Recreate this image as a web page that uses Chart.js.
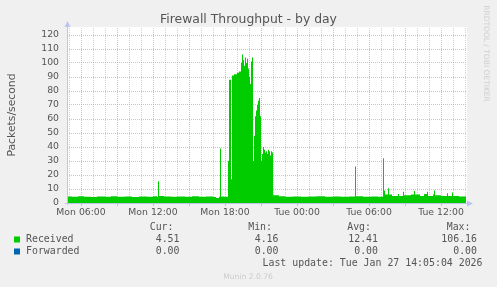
<!DOCTYPE html>
<html>
<head>
<meta charset="utf-8">
<title>Firewall Throughput - by day</title>
<script src="https://cdn.jsdelivr.net/npm/chart.js@4.4.1/dist/chart.umd.min.js"></script>
<style>
  html, body { margin: 0; padding: 0; background: #f0f0f0; }
  canvas { display: block; }
</style>
</head>
<body>
<canvas id="chart" width="497" height="287"></canvas>
<script>
// ===== Data =====
// Sample start times in minutes since Mon 00:00 (each value holds until the next time)
const times = [
  290, 315, 345, 375, 410, 440, 480, 510, 540, 580,
  615, 650, 690, 720, 740, 745, 750, 775, 810, 840,
  880, 915, 950, 985, 1020, 1035, 1050, 1055, 1060, 1075,
  1095, 1100, 1110, 1115, 1125, 1140, 1150, 1160, 1165, 1170,
  1175, 1180, 1185, 1190, 1195, 1200, 1205, 1210, 1215, 1220,
  1225, 1230, 1235, 1240, 1245, 1250, 1255, 1260, 1265, 1270,
  1275, 1280, 1285, 1290, 1295, 1300, 1305, 1310, 1315, 1320,
  1350, 1380, 1420, 1460, 1500, 1540, 1580, 1620, 1660, 1700,
  1730, 1735, 1770, 1810, 1845, 1870, 1875, 1880, 1895, 1900,
  1915, 1945, 1950, 1970, 1975, 2010, 2025, 2030, 2055, 2075,
  2090, 2095, 2120, 2125, 2130, 2160, 2190, 2195, 2215, 2220,
  2250, 2285
];
// Received packets/second
const received = [
  4.6, 4.4, 4.8, 4.5, 4.3, 4.7, 4.5, 4.9, 4.4, 4.6,
  4.3, 4.7, 4.5, 4.8, 4.5, 15.5, 5.0, 4.6, 4.4, 4.7,
  4.5, 4.8, 4.4, 4.6, 4.3, 3.6, 4.5, 39, 4.6, 4.4,
  30, 88, 17, 91, 92, 93, 94, 100, 106.16, 102,
  98, 104, 100, 103, 96, 90, 85, 101, 104, 30,
  48, 62, 66, 70, 73, 75, 62, 30, 35, 40,
  38, 36, 37, 35, 38, 37, 34, 37, 36, 5.5,
  4.8, 4.5, 4.7, 4.4, 4.6, 4.8, 4.5, 4.7, 4.4, 4.6,
  26, 4.8, 4.5, 4.7, 4.4, 32, 9, 6, 10.5, 6,
  5, 6.5, 5, 8, 5.5, 6, 8.5, 6, 5, 6.5,
  8, 5, 6, 9, 5.5, 5, 7, 5, 7.5, 5,
  4.6, 4.5
];
// Forwarded packets/second (flat zero)
const forwardedTimes = [290, 2285];
const forwarded = [0, 0];

// Axis ticks
const xTickMinutes = [360, 720, 1080, 1440, 1800, 2160];
const xTickLabels = ['Mon 06:00', 'Mon 12:00', 'Mon 18:00', 'Tue 00:00', 'Tue 06:00', 'Tue 12:00'];

// Legend table
const seriesNames = ['Received', 'Forwarded'];
const seriesColors = ['#00cc00', '#0066b3'];
const curValues = ['4.51', '0.00'];
const minValues = ['4.16', '0.00'];
const avgValues = ['12.41', '0.00'];
const maxValues = ['106.16', '0.00'];
const lastUpdate = 'Last update: Tue Jan 27 14:05:04 2026';

// ===== Styles =====
const TEXT = '#555';
const AXIS = '#bfc4ee';
const MAJOR = 'rgba(235,140,140,0.65)';
const MINOR = 'rgba(195,195,195,0.8)';
const SANS = "'DejaVu Sans', sans-serif";
const MONO = "'DejaVu Sans Mono', monospace";

// ===== Extra drawing (background, axes, texts) =====
const munin = {
  id: 'munin',
  beforeDraw(chart) {
    const { ctx, chartArea: a } = chart;
    ctx.save();
    ctx.fillStyle = '#fff';
    ctx.fillRect(a.left, a.top - 1, a.right - a.left + 1, a.bottom - a.top + 1);
    ctx.restore();
  },
  afterDraw(chart) {
    const { ctx, chartArea: a } = chart;
    ctx.save();

    // axes with arrows
    ctx.strokeStyle = AXIS;
    ctx.fillStyle = AXIS;
    ctx.lineWidth = 1;
    ctx.beginPath();
    ctx.moveTo(a.left + 0.5, a.bottom + 2);
    ctx.lineTo(a.left + 0.5, a.top - 4);
    ctx.moveTo(a.left - 2, a.bottom + 0.5);
    ctx.lineTo(a.right + 4, a.bottom + 0.5);
    ctx.stroke();
    ctx.beginPath();
    ctx.moveTo(a.left + 0.5, a.top - 7);
    ctx.lineTo(a.left - 2.5, a.top - 1);
    ctx.lineTo(a.left + 3.5, a.top - 1);
    ctx.fill();
    ctx.beginPath();
    ctx.moveTo(a.right + 7, a.bottom + 0.5);
    ctx.lineTo(a.right + 1, a.bottom - 2.5);
    ctx.lineTo(a.right + 1, a.bottom + 3.5);
    ctx.fill();

    // title
    ctx.fillStyle = TEXT;
    ctx.textAlign = 'center';
    ctx.textBaseline = 'alphabetic';
    ctx.font = '12.4px ' + SANS;
    ctx.fillText('Firewall Throughput - by day', 248.5, 22.5);

    // y axis title
    ctx.save();
    ctx.translate(14.5, 115);
    ctx.rotate(-Math.PI / 2);
    ctx.font = '10.8px ' + SANS;
    ctx.fillText('Packets/second', 0, 0);
    ctx.restore();

    // vertical watermark on the right
    ctx.save();
    ctx.translate(484, 53.5);
    ctx.rotate(Math.PI / 2);
    ctx.fillStyle = '#cfcfcf';
    ctx.font = '7.5px ' + SANS;
    ctx.fillText('RRDTOOL / TOBI OETIKER', 0, 0);
    ctx.restore();

    // legend table
    ctx.font = '9.9px ' + MONO;
    ctx.textBaseline = 'middle';
    ctx.textAlign = 'right';
    ctx.fillText('Cur:', 173.5, 227.5);
    ctx.fillText('Min:', 272, 227.5);
    ctx.fillText('Avg:', 371, 227.5);
    ctx.fillText('Max:', 470.5, 227.5);
    seriesNames.forEach((name, i) => {
      const y = 239.5 + i * 12;
      ctx.fillStyle = seriesColors[i];
      ctx.fillRect(14, y - 3, 6, 6);
      ctx.fillStyle = TEXT;
      ctx.textAlign = 'left';
      ctx.fillText(name, 26, y);
      ctx.textAlign = 'right';
      ctx.fillText(curValues[i], 179.5, y);
      ctx.fillText(minValues[i], 278.5, y);
      ctx.fillText(avgValues[i], 378, y);
      ctx.fillText(maxValues[i], 477, y);
    });
    ctx.fillText(lastUpdate, 482.5, 263.5);

    // version
    ctx.textAlign = 'center';
    ctx.fillStyle = '#cccccc';
    ctx.font = '7.6px ' + SANS;
    ctx.fillText('Munin 2.0.76', 248, 277.5);

    ctx.restore();
  }
};

// ===== Chart =====
const ctx = document.getElementById('chart').getContext('2d');
new Chart(ctx, {
  type: 'line',
  data: {
    datasets: [
      {
        label: seriesNames[0],
        data: times.map((t, i) => ({ x: t, y: received[i] })),
        backgroundColor: seriesColors[0],
        borderWidth: 0,
        pointRadius: 0,
        stepped: true,
        fill: 'origin'
      },
      {
        label: seriesNames[1],
        data: forwardedTimes.map((t, i) => ({ x: t, y: forwarded[i] })),
        backgroundColor: seriesColors[1],
        borderWidth: 0,
        pointRadius: 0,
        stepped: true,
        fill: 'origin'
      }
    ]
  },
  options: {
    responsive: false,
    animation: false,
    devicePixelRatio: 1,
    layout: { padding: { left: 0, top: 28, right: 31, bottom: 0 } },
    plugins: { legend: { display: false }, tooltip: { enabled: false } },
    scales: {
      x: {
        type: 'linear',
        min: 290,
        max: 2285,
        afterFit: s => { s.height = 84; },
        afterBuildTicks: s => {
          const ticks = [];
          for (let m = 300; m <= 2280; m += 60) ticks.push({ value: m });
          s.ticks = ticks;
        },
        grid: {
          color: c => (c.tick && c.tick.value % 180 === 0) ? MAJOR : MINOR,
          tickColor: c => (c.tick && c.tick.value % 180 === 0) ? MAJOR : 'rgba(0,0,0,0)',
          tickLength: 3,
          tickBorderDash: []
        },
        border: { display: false, dash: [1, 1] },
        ticks: {
          autoSkip: false,
          maxRotation: 0,
          padding: 1,
          color: TEXT,
          font: { family: SANS, size: 9.3 },
          callback: v => {
            const i = xTickMinutes.indexOf(v);
            return i >= 0 ? xTickLabels[i] : '';
          }
        }
      },
      y: {
        min: 0,
        max: 125,
        afterFit: s => { s.width = 67; },
        grid: {
          color: c => {
            const v = c.tick ? c.tick.value : 0;
            if (v === 0) return 'rgba(0,0,0,0)';
            return v % 10 === 0 ? MAJOR : MINOR;
          },
          drawTicks: false
        },
        border: { display: false, dash: [1, 1] },
        ticks: {
          stepSize: 5,
          padding: 8,
          color: TEXT,
          font: { family: SANS, size: 9.3 },
          callback: v => (v % 10 === 0 ? v : '')
        }
      }
    }
  },
  plugins: [munin]
});
</script>
</body>
</html>
